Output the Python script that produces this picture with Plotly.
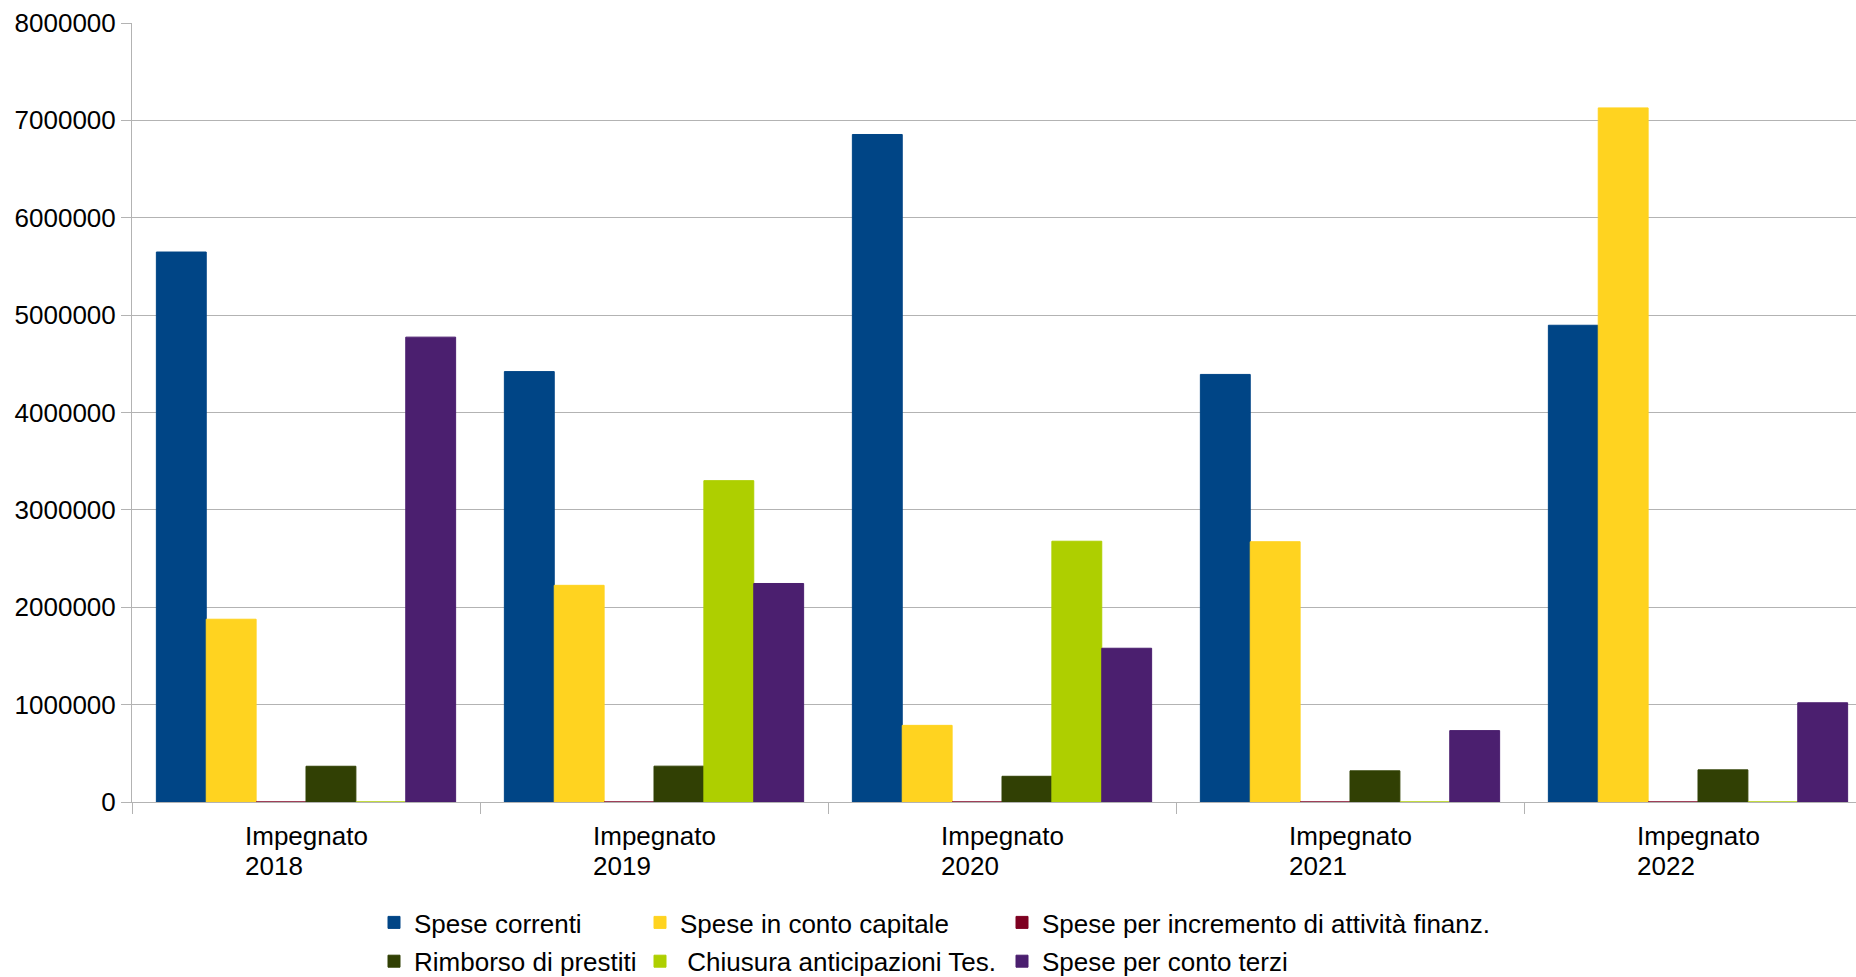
import plotly.graph_objects as go

categories = ["Impegnato 2018", "Impegnato 2019", "Impegnato 2020", "Impegnato 2021", "Impegnato 2022"]
label_line1 = ["Impegnato", "Impegnato", "Impegnato", "Impegnato", "Impegnato"]
label_line2 = ["2018", "2019", "2020", "2021", "2022"]
spese_correnti = [5648000, 4420000, 6855000, 4391000, 4896000]
spese_capitale = [1877000, 2225000, 787000, 2673000, 7128000]
spese_incremento = [0, 0, 0, 0, 0]
rimborso_prestiti = [367000, 368000, 264000, 320000, 330000]
chiusura_anticipazioni = [0, 3300000, 2678000, 0, 0]
spese_conto_terzi = [4774000, 2244000, 1579000, 733000, 1019000]
y_ticks = [0, 1000000, 2000000, 3000000, 4000000, 5000000, 6000000, 7000000, 8000000]

series = [
    ("Spese correnti", spese_correnti, "#004586", "legend"),
    ("Spese in conto capitale", spese_capitale, "#ffd320", "legend2"),
    ("Spese per incremento di attività finanz.", spese_incremento, "#7e0021", "legend3"),
    ("Rimborso di prestiti", rimborso_prestiti, "#314004", "legend"),
    ("\u00a0Chiusura anticipazioni Tes.", chiusura_anticipazioni, "#aecf00", "legend2"),
    ("Spese per conto terzi", spese_conto_terzi, "#4b1f6f", "legend3"),
]

W, H = 1856, 977
FONT = "Liberation Sans, Arial, sans-serif"
FS = 26

fig = go.Figure()
for name, vals, color, lg in series:
    fig.add_trace(go.Bar(
        x=categories, y=vals, name=name, legend=lg, legendgroup=name,
        marker=dict(color=color, line=dict(color=color, width=1)),
    ))

plot_left, plot_top, plot_bottom = 132, 23, 801.7
cat_w = 348
plot_w = W - plot_left

fig.update_layout(
    width=W, height=H,
    margin=dict(l=plot_left, r=0, t=plot_top, b=H - plot_bottom, pad=0, autoexpand=False),
    paper_bgcolor="white", plot_bgcolor="white",
    barmode="group", bargap=0.14, bargroupgap=0,
    font=dict(family=FONT, size=FS, color="black"),
    xaxis=dict(
        type="category", categoryorder="array", categoryarray=categories,
        range=[-0.5, -0.5 + plot_w / cat_w],
        showticklabels=False,
        tickson="boundaries", ticks="outside", ticklen=11, tickcolor="#b3b3b3", tickwidth=1,
        showgrid=False, showline=True, linecolor="#b3b3b3", linewidth=1,
        zeroline=False,
    ),
    yaxis=dict(
        range=[0, 8000000], tickmode="array", tickvals=y_ticks, tickformat="d",
        ticks="outside", ticklen=10, tickcolor="#b3b3b3", tickwidth=1,
        showgrid=True, gridcolor="#b3b3b3", gridwidth=1,
        showline=True, linecolor="#b3b3b3", linewidth=1,
        zeroline=False, tickfont=dict(size=FS, color="black"),
        automargin=False,
    ),
    showlegend=True,
)

legend_common = dict(
    orientation="v", xref="container", yref="container",
    xanchor="left", yanchor="top", bgcolor="rgba(0,0,0,0)",
    font=dict(family=FONT, size=FS, color="black"), tracegroupgap=2,
    borderwidth=0,
)
fig.update_layout(
    legend=dict(x=374 / W, y=1 - 899 / H, **legend_common),
    legend2=dict(x=640 / W, y=1 - 899 / H, **legend_common),
    legend3=dict(x=1002 / W, y=1 - 899 / H, **legend_common),
)

for cat, l1, l2 in zip(categories, label_line1, label_line2):
    fig.add_annotation(
        x=cat, xref="x", y=0, yref="paper", yanchor="middle", xanchor="left",
        text=l1, showarrow=False, xshift=-62, yshift=-34, borderpad=0,
        font=dict(family=FONT, size=FS, color="black"),
    )
    fig.add_annotation(
        x=cat, xref="x", y=0, yref="paper", yanchor="middle", xanchor="left",
        text=l2, showarrow=False, xshift=-62, yshift=-63.5, borderpad=0,
        font=dict(family=FONT, size=FS, color="black"),
    )

fig.write_html("out.html")
